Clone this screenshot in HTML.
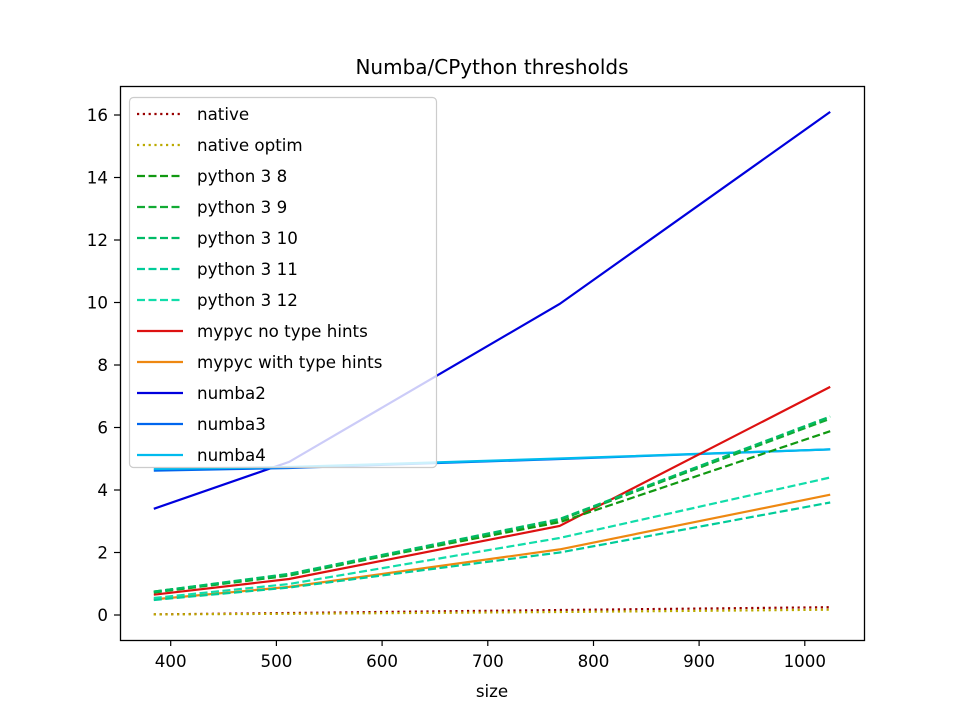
<!DOCTYPE html>
<html><head><style>body{margin:0;background:#fff}svg{display:block;font-family:"DejaVu Sans","Liberation Sans",sans-serif}</style></head><body>
<svg width="960" height="720" viewBox="0 0 960 720" xmlns="http://www.w3.org/2000/svg">
<rect width="960" height="720" fill="#fff"/>
<text x="492" y="74" font-size="20" text-anchor="middle">Numba/CPython thresholds</text>
<g fill="none" stroke-width="2.2">
<!-- x px: 384→153.8, 512→289.1, 768→559.6, 1024→830.2 ; y px = 615-31.25*v -->
<polyline stroke="#0000dd" points="153.8,508.8 289.1,461.9 559.6,304 830.2,111.9"/>
<polyline stroke="#0066ee" points="153.8,470.6 289.1,468 559.6,459 830.2,449.4"/>
<polyline stroke="#00bbee" points="153.8,469 289.1,467 559.6,458.5 830.2,449.4"/>
<polyline stroke="#dd1111" points="153.8,594.7 289.1,579 559.6,526 830.2,386.9"/>
<polyline stroke="#ee8811" points="153.8,599.4 289.1,586.9 559.6,549.4 830.2,494.7"/>
<polyline stroke="#119911" stroke-dasharray="8,3.5" points="153.8,591.6 289.1,574.4 559.6,522.2 830.2,431.2"/>
<polyline stroke="#11aa33" stroke-dasharray="8,3.5" points="153.8,592.5 289.1,575.6 559.6,520 830.2,418.7"/>
<polyline stroke="#00bb66" stroke-dasharray="8,3.5" points="153.8,591.6 289.1,573.8 559.6,519 830.2,416.5"/>
<polyline stroke="#00cc99" stroke-dasharray="8,3.5" points="153.8,600 289.1,587.5 559.6,552.5 830.2,502.5"/>
<polyline stroke="#11ddaa" stroke-dasharray="8,3.5" points="153.8,598 289.1,584 559.6,538 830.2,477.5"/>
<polyline stroke="#990000" stroke-dasharray="2.2,3.6" points="153.8,614.4 289.1,613 559.6,610 830.2,607.2"/>
<polyline stroke="#bbaa00" stroke-dasharray="2.2,3.6" points="153.8,614.4 289.1,613.8 559.6,612 830.2,609.7"/>
</g>
<rect x="120.5" y="86.5" width="744" height="554" fill="none" stroke="#000" stroke-width="1.3"/>
<g stroke="#000" stroke-width="1.2">
<line x1="170.7" y1="640" x2="170.7" y2="646"/><line x1="276.4" y1="640" x2="276.4" y2="646"/><line x1="382.1" y1="640" x2="382.1" y2="646"/><line x1="487.8" y1="640" x2="487.8" y2="646"/><line x1="593.5" y1="640" x2="593.5" y2="646"/><line x1="699.1" y1="640" x2="699.1" y2="646"/><line x1="804.8" y1="640" x2="804.8" y2="646"/>
<line x1="114" y1="615" x2="120" y2="615"/><line x1="114" y1="552.5" x2="120" y2="552.5"/><line x1="114" y1="490" x2="120" y2="490"/><line x1="114" y1="427.5" x2="120" y2="427.5"/><line x1="114" y1="365" x2="120" y2="365"/><line x1="114" y1="302.5" x2="120" y2="302.5"/><line x1="114" y1="240" x2="120" y2="240"/><line x1="114" y1="177.5" x2="120" y2="177.5"/><line x1="114" y1="115" x2="120" y2="115"/>
</g>
<g font-size="16.7" text-anchor="middle">
<text x="170.7" y="667">400</text><text x="276.4" y="667">500</text><text x="382.1" y="667">600</text><text x="487.8" y="667">700</text><text x="593.5" y="667">800</text><text x="699.1" y="667">900</text><text x="804.8" y="667">1000</text>
<text x="492" y="697">size</text>
</g>
<g font-size="16.7" text-anchor="end">
<text x="108" y="621">0</text><text x="108" y="558.5">2</text><text x="108" y="496">4</text><text x="108" y="433.5">6</text><text x="108" y="371">8</text><text x="108" y="308.5">10</text><text x="108" y="246">12</text><text x="108" y="183.5">14</text><text x="108" y="121">16</text>
</g>
<rect x="129.5" y="97.5" width="307" height="370" rx="4" fill="#fff" fill-opacity="0.8" stroke="#ccc" stroke-width="1.2"/>
<g fill="none" stroke-width="2.2">
<line x1="137" y1="114" x2="183" y2="114" stroke="#990000" stroke-dasharray="2.2,3.6"/>
<line x1="137" y1="145" x2="183" y2="145" stroke="#bbaa00" stroke-dasharray="2.2,3.6"/>
<line x1="137" y1="176" x2="183" y2="176" stroke="#119911" stroke-dasharray="8,3.5"/>
<line x1="137" y1="207" x2="183" y2="207" stroke="#11aa33" stroke-dasharray="8,3.5"/>
<line x1="137" y1="238" x2="183" y2="238" stroke="#00bb66" stroke-dasharray="8,3.5"/>
<line x1="137" y1="269" x2="183" y2="269" stroke="#00cc99" stroke-dasharray="8,3.5"/>
<line x1="137" y1="300" x2="183" y2="300" stroke="#11ddaa" stroke-dasharray="8,3.5"/>
<line x1="137" y1="331" x2="183" y2="331" stroke="#dd1111"/>
<line x1="137" y1="362" x2="183" y2="362" stroke="#ee8811"/>
<line x1="137" y1="393" x2="183" y2="393" stroke="#0000dd"/>
<line x1="137" y1="424" x2="183" y2="424" stroke="#0066ee"/>
<line x1="137" y1="455" x2="183" y2="455" stroke="#00bbee"/>
</g>
<g font-size="16.7">
<text x="197" y="120">native</text><text x="197" y="151">native optim</text><text x="197" y="182">python 3 8</text><text x="197" y="213">python 3 9</text><text x="197" y="244">python 3 10</text><text x="197" y="275">python 3 11</text><text x="197" y="306">python 3 12</text><text x="197" y="337">mypyc no type hints</text><text x="197" y="368">mypyc with type hints</text><text x="197" y="399">numba2</text><text x="197" y="430">numba3</text><text x="197" y="461">numba4</text>
</g>
</svg>
</body></html>
